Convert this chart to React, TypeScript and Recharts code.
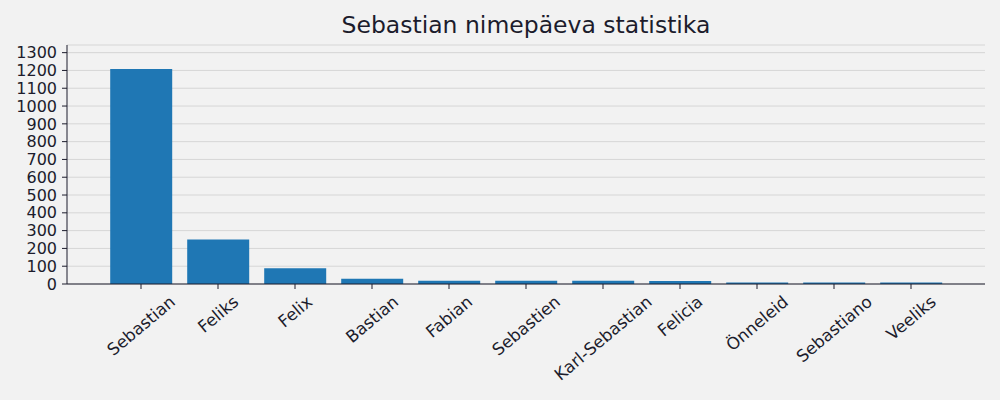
import { BarChart, Bar, XAxis, YAxis, CartesianGrid } from "recharts";

const names = [
  "Sebastian",
  "Feliks",
  "Felix",
  "Bastian",
  "Fabian",
  "Sebastien",
  "Karl-Sebastian",
  "Felicia",
  "Önneleid",
  "Sebastiano",
  "Veeliks",
];
const counts = [1208, 250, 88, 30, 18, 18, 18, 17, 8, 8, 8];
const yTicks = [0, 100, 200, 300, 400, 500, 600, 700, 800, 900, 1000, 1100, 1200, 1300];

const data = names.map((name, i) => ({ name, count: counts[i] }));

const TEXT = "#1c1c2c";
const FONT = "DejaVu Sans";
const TICK_FS = 16.7;
const Y_FS = 16;
const ANGLE = 40;

let ctx: CanvasRenderingContext2D | null = null;
const measure = (s: string) => {
  if (!ctx) ctx = document.createElement("canvas").getContext("2d");
  if (!ctx) return s.length * TICK_FS * 0.6;
  ctx.font = `${TICK_FS}px "${FONT}"`;
  return ctx.measureText(s).width;
};

// rotated label, its bounding box centered under the tick like matplotlib
const RotatedTick = (props: any) => {
  const { x, y, payload } = props;
  const w = measure(payload.value);
  const rad = (ANGLE * Math.PI) / 180;
  const lineH = TICK_FS * 1.1;
  const h = w * Math.sin(rad) + lineH * Math.cos(rad);
  const cy = y + 3 + h / 2;
  return (
    <text
      x={x}
      y={cy}
      textAnchor="middle"
      dominantBaseline="central"
      transform={`rotate(${-ANGLE}, ${x}, ${cy})`}
      fill={TEXT}
      fontSize={TICK_FS}
      fontFamily={FONT}
    >
      {payload.value}
    </text>
  );
};

const App = () => {
  return (
    <div style={{ width: 1000, height: 400, background: "#f2f2f2", position: "relative", fontFamily: FONT }}>
      <style>{`body{margin:0}`}</style>
      <div
        style={{
          position: "absolute",
          top: 9,
          left: 67,
          width: 918,
          textAlign: "center",
          fontSize: 23.5,
          color: TEXT,
          lineHeight: "32px",
        }}
      >
        Sebastian nimepäeva statistika
      </div>
      <BarChart
        width={1000}
        height={400}
        data={data}
        margin={{ top: 45, right: 15, left: 7, bottom: 16 }}
        barCategoryGap="10%"
      >
        <CartesianGrid vertical={false} stroke="#d6d6d6" strokeWidth={1} />
        <XAxis
          dataKey="name"
          interval={0}
          height={100}
          padding={{ left: 35.5, right: 35.5 }}
          tickSize={5}
          tickMargin={0}
          tick={<RotatedTick />}
          axisLine={{ stroke: TEXT }}
          tickLine={{ stroke: TEXT }}
        />
        <XAxis
          xAxisId="top"
          orientation="top"
          dataKey="name"
          height={0}
          tick={false}
          tickLine={false}
          axisLine={{ stroke: TEXT }}
        />
        <YAxis
          width={60}
          domain={[0, 1343]}
          ticks={yTicks}
          interval={0}
          tickSize={5}
          tickMargin={5}
          tick={{ fill: TEXT, fontSize: Y_FS, fontFamily: FONT }}
          axisLine={{ stroke: TEXT }}
          tickLine={{ stroke: TEXT }}
        />
        <YAxis
          yAxisId="right"
          orientation="right"
          width={0}
          tick={false}
          tickLine={false}
          axisLine={{ stroke: TEXT }}
        />
        <Bar dataKey="count" fill="#1f77b4" isAnimationActive={false} />
      </BarChart>
    </div>
  );
};

export default App;
